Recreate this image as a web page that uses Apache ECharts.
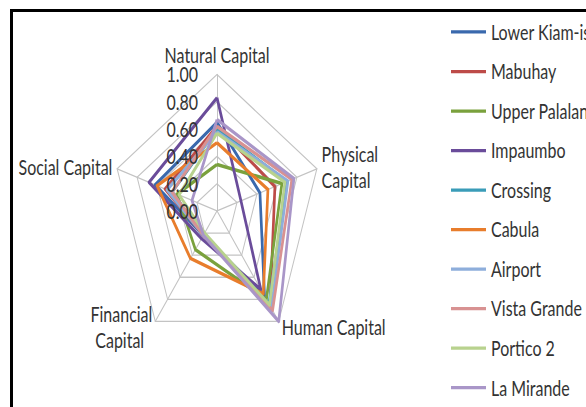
<!DOCTYPE html>
<html>
<head>
<meta charset="utf-8">
<script src="https://cdn.jsdelivr.net/npm/echarts@6/dist/echarts.min.js"></script>
<style>
html, body { margin: 0; padding: 0; background: #fff; overflow: hidden; width: 586px; height: 407px; }
#frame { position: absolute; left: 10px; top: 9px; width: 700px; height: 500px; border: 3px solid #000; }
/* the source picture is a stretched spreadsheet chart, so draw flat and stretch it */
#chart { position: absolute; left: 0; top: 0; width: 586px; height: 313px; transform: scaleY(1.3); transform-origin: 0 0; }
</style>
</head>
<body>
<div id="frame"></div>
<div id="chart"></div>
<script>
// axes, in the order the reference reads them clockwise from the top
var capitals = ['Natural Capital', 'Physical\nCapital', 'Human Capital', 'Financial\nCapital  ', 'Social Capital']
var sites = ['Lower Kiam-isan', 'Mabuhay', 'Upper Palalan', 'Impaumbo', 'Crossing',
  'Cabula', 'Airport', 'Vista Grande', 'Portico 2', 'La Mirande']
var colors = ['#3a69ad', '#bd4b48', '#7aa13d', '#6a4c9a', '#3a9cb8',
  '#e87d2c', '#8eaedb', '#d89292', '#b8d28e', '#a996c8']

// values per site: natural, physical, human, financial, social
var lowerKiamisan = [0.65, 0.43, 0.77, 0.22, 0.62]
var mabuhay = [0.62, 0.58, 0.86, 0.22, 0.52]
var upperPalalan = [0.34, 0.65, 0.80, 0.35, 0.40]
var impaumbo = [0.83, 0.24, 0.71, 0.25, 0.68]
var crossing = [0.60, 0.70, 0.84, 0.22, 0.45]
var cabula = [0.50, 0.51, 0.75, 0.43, 0.60]
var airport = [0.58, 0.71, 0.88, 0.22, 0.50]
var vistaGrande = [0.62, 0.75, 0.90, 0.22, 0.45]
var portico2 = [0.57, 0.68, 0.85, 0.20, 0.38]
var laMirande = [0.67, 0.77, 1.00, 0.22, 0.25]
var siteValues = [lowerKiamisan, mabuhay, upperPalalan, impaumbo, crossing,
  cabula, airport, vistaGrande, portico2, laMirande]

var scaleMax = 1
var scaleStep = 0.2

// echarts lays radar axes out counter-clockwise, so flip everything after the first
function ccw (arr) {
  return [arr[0]].concat(arr.slice(1).reverse())
}

var font = 'Lato, "Open Sans", sans-serif'
var textColor = '#333'
var chart = echarts.init(document.getElementById('chart'), null, { renderer: 'svg', width: 586, height: 313 })

var option = {
  animation: false,
  textStyle: { fontFamily: font },
  legend: {
    orient: 'vertical',
    left: 451,
    top: 16.6,
    padding: 0,
    itemWidth: 35,
    itemHeight: 2.5,
    itemGap: 14.4,
    icon: 'rect',
    data: sites,
    textStyle: { fontFamily: font, fontSize: 16, color: textColor, lineHeight: 16 },
  },
  radar: {
    center: [217, 162.3],
    radius: 105,
    shape: 'polygon',
    splitNumber: scaleMax / scaleStep,
    indicator: ccw(capitals).map(function (c) { return { name: c, min: 0, max: scaleMax } }),
    nameGap: 5,
    axisName: { color: textColor, fontSize: 16, fontFamily: font, lineHeight: 20 },
    axisLine: { lineStyle: { color: '#c3c3c3', width: 1 } },
    splitLine: { lineStyle: { color: '#c3c3c3', width: 1 } },
    splitArea: { show: false },
  },
  // value labels along the upward axis come from a plain value axis lined up with it
  grid: { left: 217, top: 57.3, width: 1, height: 105 },
  xAxis: { type: 'value', show: false },
  yAxis: {
    type: 'value',
    min: 0,
    max: scaleMax,
    interval: scaleStep,
    z: 10,
    axisLine: { show: false },
    axisTick: { show: false },
    splitLine: { show: false },
    axisLabel: {
      margin: 19,
      fontSize: 16,
      fontFamily: font,
      color: textColor,
      formatter: function (v) { return v.toFixed(2) },
    },
  },
  series: [
    {
      type: 'radar',
      symbol: 'none',
      data: sites.map(function (s, i) {
        return {
          name: s,
          value: ccw(siteValues[i]),
          itemStyle: { color: colors[i] },
          lineStyle: { color: colors[i], width: 2.7 },
        }
      }),
    },
  ],
}
chart.setOption(option)
</script>
</body>
</html>
